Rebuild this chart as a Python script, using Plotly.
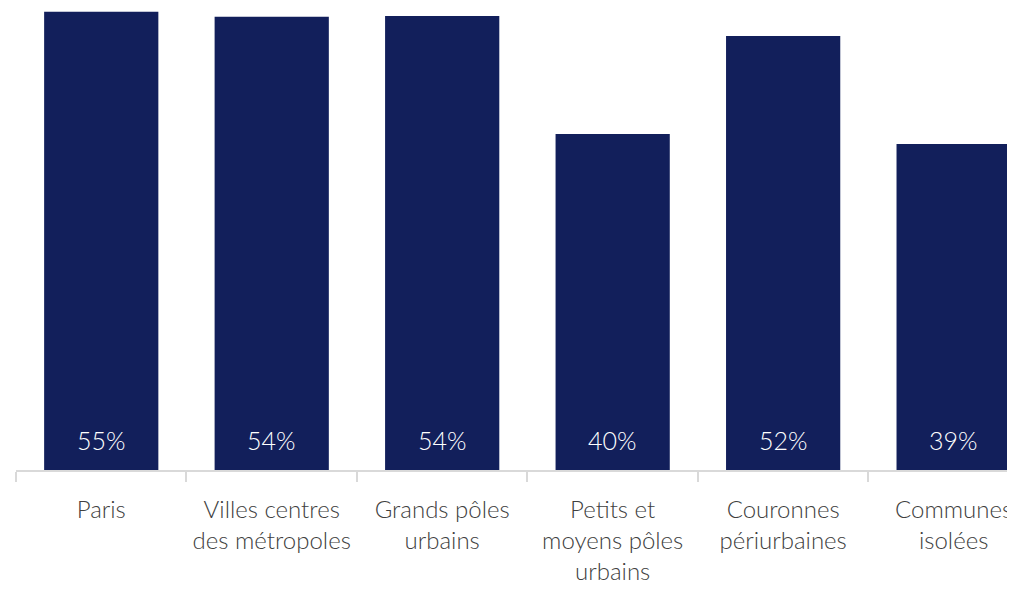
import plotly.graph_objects as go

categories = ["Paris", "Villes centres<br>des métropoles", "Grands pôles<br>urbains",
              "Petits et<br>moyens pôles<br>urbains", "Couronnes<br>périurbaines", "Communes<br>isolées"]
values = [54.8, 54.2, 54.3, 40.2, 51.9, 39.0]
labels = [f"{round(v)}%" for v in values]

BAR = "#121f5b"
AXIS = "#d9d9d9"
FONT = "Lato"

fig = go.Figure(go.Bar(
    x=categories, y=values,
    marker=dict(color=BAR, line=dict(width=0)),
    width=0.67, hoverinfo="skip",
))

for c, t in zip(categories, labels):
    fig.add_annotation(
        x=c, y=0, text=t, showarrow=False,
        yanchor="bottom", yshift=13,
        font=dict(family=FONT, size=25, color="white", weight=300),
    )

fig.update_layout(
    width=1007, height=587,
    margin=dict(l=8, r=0, t=0, b=125, autoexpand=False),
    plot_bgcolor="white", paper_bgcolor="white",
    showlegend=False,
)
fig.update_xaxes(
    type="category", range=[-0.5, 5.36], automargin=False,
    showline=True, linecolor=AXIS, linewidth=2,
    ticks="outside", tickson="boundaries", ticklen=10, tickcolor=AXIS, tickwidth=2,
    showgrid=False, tickangle=0, ticklabelstandoff=17,
    tickfont=dict(family=FONT, size=24, color="#404040", weight=300),
)
fig.update_yaxes(range=[0, 55.26], visible=False, showgrid=False, automargin=False)

fig.write_html("out.html")
